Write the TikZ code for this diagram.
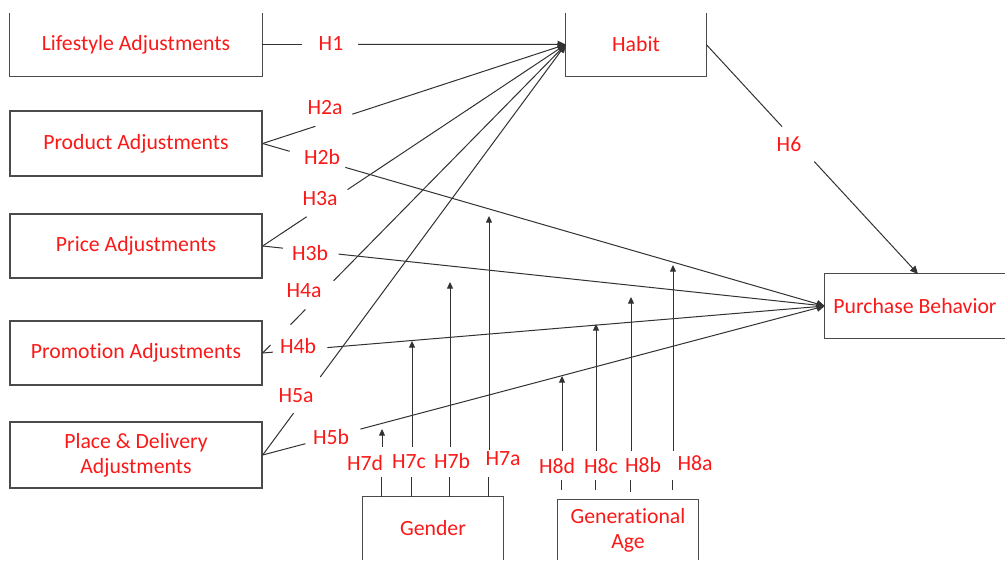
\documentclass[tikz,border=0pt]{standalone}
\usepackage{fontspec}
\setmainfont{Carlito}[Ligatures=NoCommon]
\usetikzlibrary{arrows.meta,calc}
\definecolor{txtred}{RGB}{250,25,25}
\definecolor{linec}{RGB}{50,50,50}
\definecolor{boxc}{RGB}{75,75,75}
\begin{document}
\begin{tikzpicture}[x=0.75pt,y=-0.75pt,
  boxn/.style={inner sep=0pt, text=txtred, font=\fontsize{16.3}{19}\selectfont, align=center},
  frame/.style={draw=boxc, line width=1pt},
  lbl/.style={text=txtred, inner sep=0pt, font=\fontsize{16.3}{19}\selectfont},
  conn/.style={draw=linec, line width=0.75pt},
  arr/.style={conn, -{Triangle[length=6pt,width=5.5pt]}},
  smallarr/.style={conn, -{Triangle[length=5pt,width=4.5pt]}}
]
\useasboundingbox (0,0) rectangle (1005,560);
\fill[white] (0,0) rectangle (1005,560);

% boxes
\node[boxn, minimum width=189pt, minimum height=47.25pt] (lif) at (136,44.5) {Lifestyle Adjustments};
\draw[frame] (lif.north west) -- (lif.south west) -- (lif.south east) -- (lif.north east);
\node[boxn, frame, minimum width=189pt, minimum height=48.75pt] (prod) at (136,143.5) {Product Adjustments};
\node[boxn, frame, minimum width=189pt, minimum height=48pt] (price) at (136,246) {Price Adjustments};
\node[boxn, frame, minimum width=189pt, minimum height=48pt] (promo) at (136,353) {Promotion Adjustments};
\node[boxn, frame, minimum width=189pt, minimum height=49.5pt] (place) at (136,455) {Place \& Delivery\\Adjustments};
\node[boxn, minimum width=105pt, minimum height=47.25pt] (hab) at (636,44.5) {Habit};
\draw[frame] (hab.north west) -- (hab.south west) -- (hab.south east) -- (hab.north east);
\node[boxn, minimum width=135pt, minimum height=48pt] (pb) at (915,306) {Purchase Behavior};
\draw[frame] (pb.north east) -- (pb.north west) -- (pb.south west) -- (pb.south east);
\node[boxn, minimum width=105pt, minimum height=47.25pt] (gen) at (433,528.5) {Gender};
\draw[frame] (gen.south west) -- (gen.north west) -- (gen.north east) -- (gen.south east);
\node[boxn, minimum width=105pt, minimum height=45pt] (age) at (628,530) {Generational\\Age};
\draw[frame] (age.south west) -- (age.north west) -- (age.north east) -- (age.south east);

% labels
\node[lbl] (lH1) at (331,44) {H1};
\node[lbl] (lH2a) at (325,108) {H2a};
\node[lbl] (lH2b) at (322,157) {H2b};
\node[lbl] (lH3a) at (320,199) {H3a};
\node[lbl] (lH3b) at (310,253) {H3b};
\node[lbl] (lH4a) at (304,291) {H4a};
\node[lbl] (lH4b) at (298,346) {H4b};
\node[lbl] (lH5a) at (296,396) {H5a};
\node[lbl] (lH5b) at (331,437) {H5b};
\node[lbl] (lH6) at (789,144) {H6};
\node[lbl] (lH7d) at (365,463) {H7d};
\node[lbl] (lH7c) at (409,462) {H7c};
\node[lbl] (lH7b) at (452,461) {H7b};
\node[lbl] (lH7a) at (503,459) {H7a};
\node[lbl] (lH8d) at (557,466) {H8d};
\node[lbl] (lH8c) at (601,466) {H8c};
\node[lbl] (lH8b) at (643,465) {H8b};
\node[lbl] (lH8a) at (695,463) {H8a};

% main paths
\coordinate (pbtop) at (918,274);
\draw[conn] (lif.east) -- ($(lif.east)!0.13!(hab.west)$);
\draw[arr] ($(lif.east)!0.316!(hab.west)$) -- (hab.west);

\draw[conn] (prod.east) -- ($(prod.east)!0.174!(hab.west)$);
\draw[arr] ($(prod.east)!0.296!(hab.west)$) -- (hab.west);
\draw[conn] (prod.east) -- ($(prod.east)!0.048!(pb.west)$);
\draw[arr] ($(prod.east)!0.147!(pb.west)$) -- (pb.west);

\draw[conn] (price.east) -- ($(price.east)!0.145!(hab.west)$);
\draw[arr] ($(price.east)!0.28!(hab.west)$) -- (hab.west);
\draw[conn] (price.east) -- ($(price.east)!0.036!(pb.west)$);
\draw[arr] ($(price.east)!0.135!(pb.west)$) -- (pb.west);

\draw[conn] (promo.east) -- ($(promo.east)!0.026!(hab.west)$);
\draw[conn] ($(promo.east)!0.092!(hab.west)$) -- ($(promo.east)!0.141!(hab.west)$);
\draw[arr] ($(promo.east)!0.234!(hab.west)$) -- (hab.west);
\draw[conn] (promo.east) -- ($(promo.east)!0.018!(pb.west)$);
\draw[arr] ($(promo.east)!0.115!(pb.west)$) -- (pb.west);

\draw[conn] (place.east) -- ($(place.east)!0.102!(hab.west)$);
\draw[arr] ($(place.east)!0.19!(hab.west)$) -- (hab.west);
\draw[conn] (place.east) -- ($(place.east)!0.076!(pb.west)$);
\draw[arr] ($(place.east)!0.174!(pb.west)$) -- (pb.west);

\draw[conn] (hab.east) -- ($(hab.east)!0.358!(pbtop)$);
\draw[arr] ($(hab.east)!0.51!(pbtop)$) -- (pbtop);

% moderators: gender
\coordinate (t7d) at (382,429); \coordinate (u7d) at (382,447);
\coordinate (t7c) at (412,341); \coordinate (u7c) at (412,447);
\coordinate (t7b) at (450,282); \coordinate (u7b) at (450,447);
\coordinate (t7a) at (489,216); \coordinate (u7a) at (489,450);
\draw[smallarr] (u7d) -- (t7d);
\draw[smallarr] (u7c) -- (t7c);
\draw[smallarr] (u7b) -- (t7b);
\draw[smallarr] (u7a) -- (t7a);
\draw[conn] ($(gen.north west)+(19,0)$) -- ++(0,-20);
\draw[conn] ($(gen.north west)+(49,0)$) -- ++(0,-20);
\draw[conn] ($(gen.north west)+(87,0)$) -- ++(0,-20);
\draw[conn] ($(gen.north west)+(126,0)$) -- ++(0,-20);

% moderators: generational age
\coordinate (t8d) at (562,376); \coordinate (u8d) at (562,451);
\coordinate (t8c) at (596,324); \coordinate (u8c) at (596,451);
\coordinate (t8b) at (631,297); \coordinate (u8b) at (631,451);
\coordinate (t8a) at (673,265); \coordinate (u8a) at (673,451);
\draw[smallarr] (u8d) -- (t8d);
\draw[smallarr] (u8c) -- (t8c);
\draw[smallarr] (u8b) -- (t8b);
\draw[smallarr] (u8a) -- (t8a);
\draw[conn] ($(age.north west)+(4,-10)$) -- ++(0,-10);
\draw[conn] ($(age.north west)+(38,-10)$) -- ++(0,-10);
\draw[conn] ($(age.north west)+(73,-8)$) -- ++(0,-12);
\draw[conn] ($(age.north west)+(115,-10)$) -- ++(0,-10);
\end{tikzpicture}
\end{document}
